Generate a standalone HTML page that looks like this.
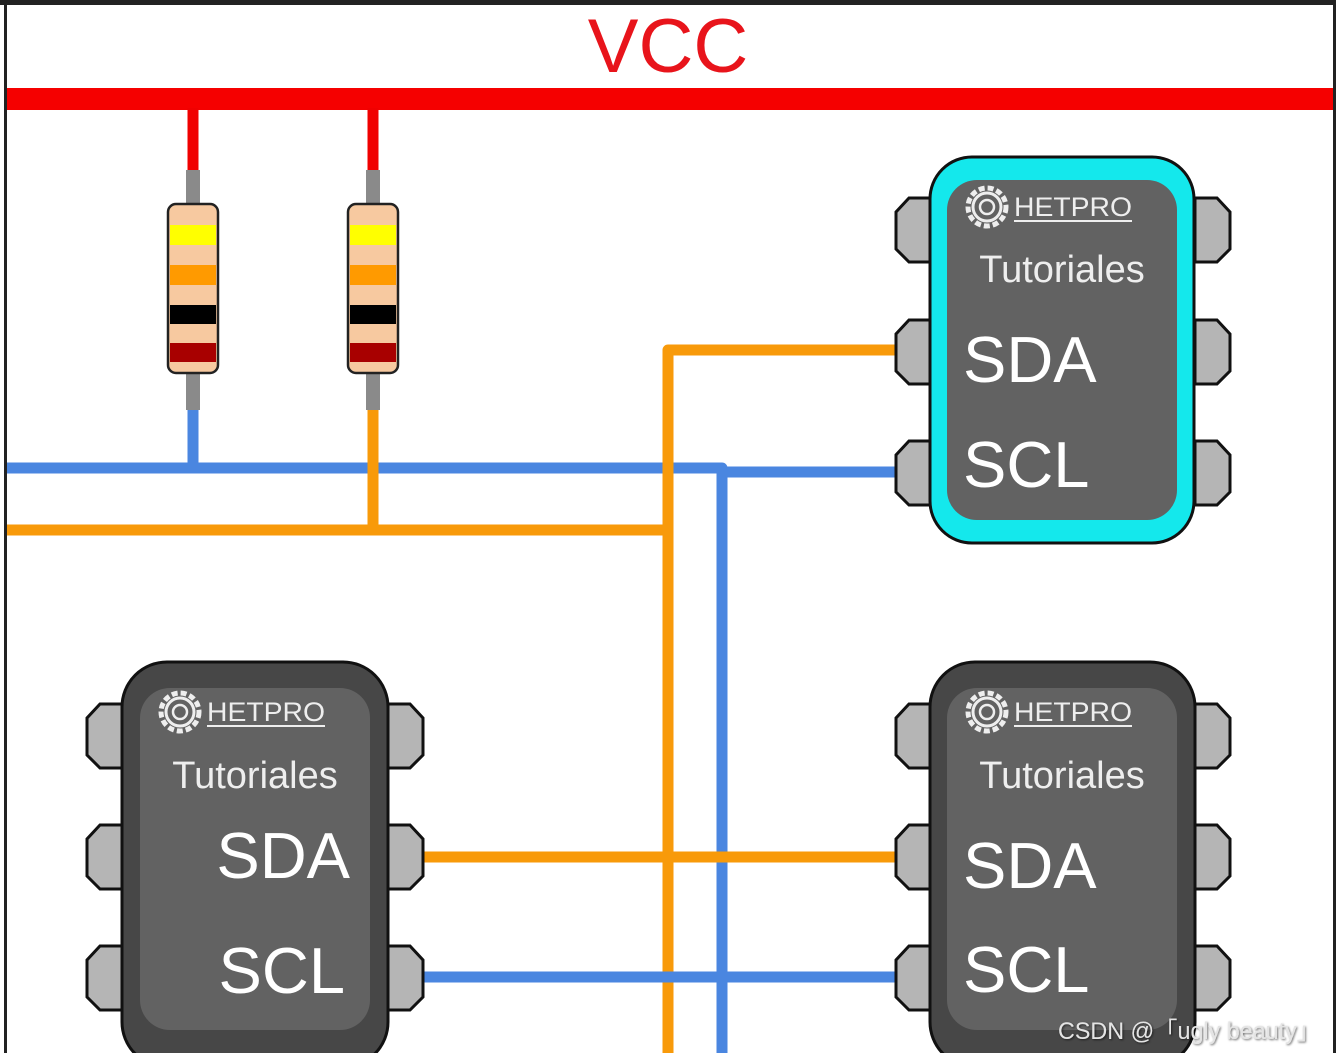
<!DOCTYPE html>
<html><head><meta charset="utf-8"><style>
html,body{margin:0;padding:0;background:#fff;}
svg{display:block;}
text{font-family:"Liberation Sans",sans-serif;}
</style></head><body>
<svg width="1336" height="1053" viewBox="0 0 1336 1053" xmlns="http://www.w3.org/2000/svg">
<defs>
<filter id="sh" x="-10%" y="-30%" width="120%" height="160%"><feDropShadow dx="1" dy="1" stdDeviation="1" flood-color="#000" flood-opacity="0.6"/></filter>
<g id="pins">
<polygon points="36,0 14,0 1,14 1,51 14,64 36,64" fill="#b5b5b5" stroke="#111" stroke-width="3"/>
</g>
<g id="logo">
<circle cx="0" cy="0" r="19" fill="none" stroke="#eee" stroke-width="5" stroke-dasharray="6 3"/>
<circle cx="0" cy="0" r="14" fill="none" stroke="#eee" stroke-width="3"/>
<circle cx="0" cy="0" r="7" fill="none" stroke="#eee" stroke-width="2.5"/>
<text x="27" y="9" font-size="27" fill="#eee" textLength="118" lengthAdjust="spacingAndGlyphs">HETPRO</text>
<rect x="27" y="13" width="118" height="2" fill="#eee"/>
</g>
</defs>
<rect x="0" y="0" width="1336" height="1053" fill="#fff"/>
<rect x="0" y="0" width="1336" height="5" fill="#222"/>
<rect x="4" y="0" width="3" height="1053" fill="#222"/>
<rect x="1333" y="0" width="3" height="1053" fill="#222"/>
<text x="668" y="72" font-size="76" fill="#e8141b" text-anchor="middle">VCC</text>
<rect x="7" y="88" width="1326" height="22" fill="#f50000"/>

<g fill="none" stroke-width="11" stroke-linejoin="round">
<path d="M193 108 V172 M373 108 V172" stroke="#f00000"/>
<path d="M7 468 H722 V1053 M722 472 H896" stroke="#4a86e0"/>
<path d="M193 405 V468" stroke="#4a86e0"/>
<path d="M373 405 V530 M7 530 H668 M668 1053 V350 H896" stroke="#f89a0a"/>
<path d="M422 857 H896" stroke="#f89a0a"/>
<path d="M422 977 H896" stroke="#4a86e0"/>
</g>

<g id="res">
<rect x="186" y="170" width="14" height="36" fill="#8a8a8a"/>
<rect x="186" y="372" width="14" height="38" fill="#8a8a8a"/>
<rect x="168" y="204" width="50" height="169" rx="8" fill="#f7c9a0" stroke="#222" stroke-width="2.5"/>
<rect x="170" y="225" width="46" height="20" fill="#ffff00"/>
<rect x="170" y="265" width="46" height="20" fill="#ff9a00"/>
<rect x="170" y="305" width="46" height="19" fill="#000"/>
<rect x="170" y="343" width="46" height="19" fill="#a80000"/>
</g>
<use href="#res" transform="translate(180,0)"/>

<use href="#pins" transform="translate(895,198)"/>
<use href="#pins" transform="translate(895,320)"/>
<use href="#pins" transform="translate(895,441)"/>
<use href="#pins" transform="translate(1231,198) scale(-1,1)"/>
<use href="#pins" transform="translate(1231,320) scale(-1,1)"/>
<use href="#pins" transform="translate(1231,441) scale(-1,1)"/>
<rect x="930" y="157" width="264" height="386" rx="42" fill="#14e8ec" stroke="#111" stroke-width="3"/>
<rect x="947" y="180" width="230" height="340" rx="30" fill="#626262"/>
<use href="#logo" transform="translate(987,207)"/>
<text x="1062" y="282" font-size="38" fill="#eee" text-anchor="middle">Tutoriales</text>
<text x="963" y="382" font-size="65" fill="#fff">SDA</text>
<text x="963" y="487" font-size="65" fill="#fff">SCL</text>

<use href="#pins" transform="translate(86,704)"/>
<use href="#pins" transform="translate(86,825)"/>
<use href="#pins" transform="translate(86,946)"/>
<use href="#pins" transform="translate(424,704) scale(-1,1)"/>
<use href="#pins" transform="translate(424,825) scale(-1,1)"/>
<use href="#pins" transform="translate(424,946) scale(-1,1)"/>
<rect x="122" y="662" width="266" height="405" rx="45" fill="#474747" stroke="#111" stroke-width="3"/>
<rect x="140" y="688" width="230" height="342" rx="30" fill="#626262"/>
<use href="#logo" transform="translate(180,712)"/>
<text x="255" y="788" font-size="38" fill="#eee" text-anchor="middle">Tutoriales</text>
<text x="350" y="878" font-size="65" fill="#fff" text-anchor="end">SDA</text>
<text x="345" y="993" font-size="65" fill="#fff" text-anchor="end">SCL</text>

<use href="#pins" transform="translate(895,704)"/>
<use href="#pins" transform="translate(895,825)"/>
<use href="#pins" transform="translate(895,946)"/>
<use href="#pins" transform="translate(1231,704) scale(-1,1)"/>
<use href="#pins" transform="translate(1231,825) scale(-1,1)"/>
<use href="#pins" transform="translate(1231,946) scale(-1,1)"/>
<rect x="930" y="662" width="265" height="405" rx="45" fill="#474747" stroke="#111" stroke-width="3"/>
<rect x="947" y="688" width="230" height="342" rx="30" fill="#626262"/>
<use href="#logo" transform="translate(987,712)"/>
<text x="1062" y="788" font-size="38" fill="#eee" text-anchor="middle">Tutoriales</text>
<text x="963" y="888" font-size="65" fill="#fff">SDA</text>
<text x="963" y="992" font-size="65" fill="#fff">SCL</text>

<text x="1058" y="1039" font-size="24" fill="#e4e4e4" filter="url(#sh)" textLength="262" lengthAdjust="spacingAndGlyphs" font-family="Liberation Sans, Noto Sans CJK SC, sans-serif">CSDN @「ugly beauty」</text>
</svg>
</body></html>
